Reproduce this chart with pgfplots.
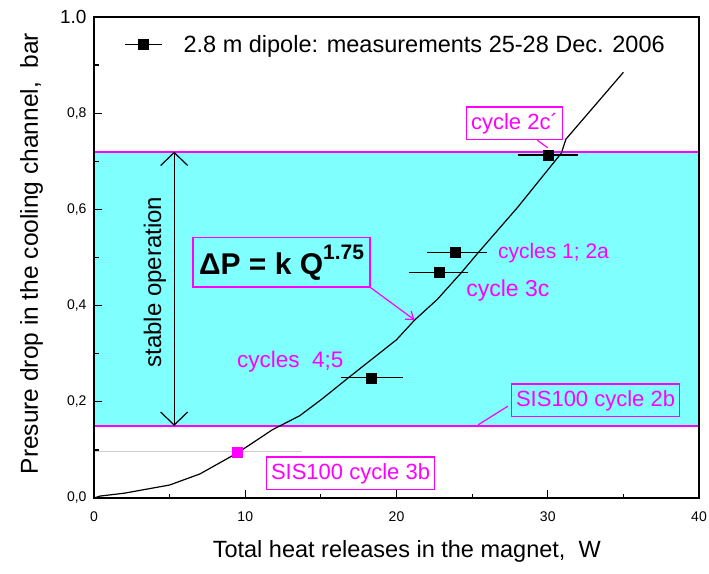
\documentclass[border=0pt]{standalone}
\usepackage{fontspec}
\setmainfont{Liberation Sans}
\usepackage{pgfplots}
\pgfplotsset{compat=1.18}
\usetikzlibrary{arrows.meta}
\definecolor{cyanfill}{RGB}{128,255,255}
\definecolor{mag}{RGB}{255,0,255}
\newcommand\fsz[1]{\fontsize{#1}{#1}\selectfont}
\begin{document}
\begin{tikzpicture}
\begin{axis}[
  scale only axis, width=605bp, height=481bp,
  xmin=0, xmax=40, ymin=0, ymax=1,
  xtick={0,10,20,30,40}, ytick={0,0.2,0.4,0.6,0.8,1},
  yticklabels={{0,0},{0,2},{0,4},{0,6},{0,8},{\fsz{19bp}1.0}},
  minor x tick num=1, minor y tick num=1,
  tick align=inside, xtick pos=bottom, ytick pos=left,
  major tick length=8bp, minor tick length=4.5bp,
  every tick/.style={black, line width=1.2bp},
  axis line style={line width=1.6bp},
  ticklabel style={font=\fsz{14bp}},
  /pgf/number format/assume math mode=true,
  xticklabel style={yshift=-10bp},
  yticklabel style={xshift=-4bp},
  xlabel={Total heat releases in the magnet,~ W},
  ylabel={Presure drop in the cooling channel,~ bar},
  xlabel style={at={(axis description cs:0.517,-0.1247)}, anchor=base, font=\fsz{23.5bp}},
  ylabel style={at={(axis description cs:-0.0926,0.508)}, anchor=base, font=\fsz{24.5bp}},
  axis on top,
  legend style={at={(axis description cs:0.045,0.942)}, anchor=west, draw=none, fill=none, font=\fsz{23.5bp},
    /tikz/every odd column/.append style={column sep=19bp}},
]
\addplot[draw=none, fill=cyanfill, forget plot] coordinates {(0,0.15) (40,0.15) (40,0.72) (0,0.72)} -- cycle;
\addplot[gray!40, line width=1bp, forget plot] coordinates {(0,0.097) (13.75,0.097)};
\addplot[mag, line width=1.8bp, forget plot] coordinates {(0,0.72) (40,0.72)};
\addplot[mag, line width=1.8bp, forget plot] coordinates {(0,0.15) (40,0.15)};
\addplot[black, line width=1.2bp, forget plot] coordinates {
(0,0) (0.4,0.004) (2,0.01) (5,0.027) (7,0.05) (9.5,0.094) (11.8,0.142) (13.6,0.171)
(15,0.204) (16.9,0.252) (20,0.329) (21.2,0.37) (22.7,0.413) (24.3,0.469) (25.4,0.51)
(28,0.604) (30.9,0.717) (31.2,0.746) (35,0.885)};
\addplot[only marks, mark=square*, mark size=5bp, black, forget plot,
  error bars/.cd, x dir=both, x explicit, error mark=none,
  error bar style={line width=1.2bp, black}] coordinates {
(30.0,0.713) += (2.0,0) -= (2.0,0)
(23.9,0.511) += (2.1,0) -= (1.9,0)
(22.8,0.469) += (1.9,0) -= (2.0,0)
(18.3,0.250) += (2.1,0) -= (2.0,0)
};
\addplot[only marks, mark=square*, mark size=5bp, mag, forget plot] coordinates {(9.5,0.096)};
\addlegendimage{black, line width=1.2bp, mark=square*, mark size=5bp,
  legend image code/.code={\draw[mark repeat=2,mark phase=2,##1] plot coordinates {(0bp,0bp) (18.5bp,0bp) (37bp,0bp)};}}
\addlegendentry{2.8 m dipole: measurements 25-28 Dec. 2006}

% annotations
\draw[line width=1.2bp, {Straight Barb[length=13bp,width=27bp,line width=1.2bp]}-{Straight Barb[length=13bp,width=27bp,line width=1.2bp]}]
  (axis cs:5.3,0.72) -- (axis cs:5.3,0.15);
\node[rotate=90, font=\fsz{24bp}] at (axis cs:4.03,0.449) {stable operation};
\node[draw=mag, line width=1.5bp, inner xsep=6bp, inner ysep=7bp, font=\bfseries\fsz{30bp}] (dp) at (axis cs:12.4,0.49)
  {ΔP = k Q\raisebox{0.5em}{\fsz{21bp}1.75}};
\draw[mag, line width=1.2bp, -{Straight Barb[length=7bp,width=10bp]}] (dp.south east) -- (axis cs:21.2,0.370);
\node[draw=mag, line width=1.5bp, fill=white, text=mag, inner xsep=4.5bp, inner ysep=6bp, font=\fsz{22bp}] (c2c) at (axis cs:27.8,0.779) {cycle 2c´};
\draw[mag, line width=1.2bp] (axis cs:29.3,0.744) -- (axis cs:30.0,0.728);
\node[anchor=west, inner sep=0pt, text=mag, font=\fsz{21bp}] at (axis cs:26.7,0.509) {cycles 1; 2a};
\node[anchor=west, inner sep=0pt, text=mag, font=\fsz{23bp}] at (axis cs:24.6,0.432) {cycle 3c};
\node[anchor=west, inner sep=0pt, text=mag, font=\fsz{22.5bp}] at (axis cs:9.45,0.283) {cycles~ 4;5};
\node[draw=mag, line width=1.5bp, text=mag, inner xsep=4.5bp, inner ysep=6bp, font=\fsz{22bp}] at (axis cs:33.16,0.203) {SIS100 cycle 2b};
\draw[mag, line width=1.2bp] (axis cs:27.37,0.191) -- (axis cs:25.39,0.152);
\node[draw=mag, line width=1.5bp, fill=white, text=mag, inner xsep=4.5bp, inner ysep=6bp, font=\fsz{22bp}] at (axis cs:16.96,0.051) {SIS100 cycle 3b};
\coordinate (sw) at (rel axis cs:0,0);
\coordinate (ne) at (rel axis cs:1,1);
\end{axis}
\pgfresetboundingbox
\path ([shift={(-94bp,-75bp)}]sw) rectangle ([shift={(10bp,17bp)}]ne);
\end{tikzpicture}
\end{document}
